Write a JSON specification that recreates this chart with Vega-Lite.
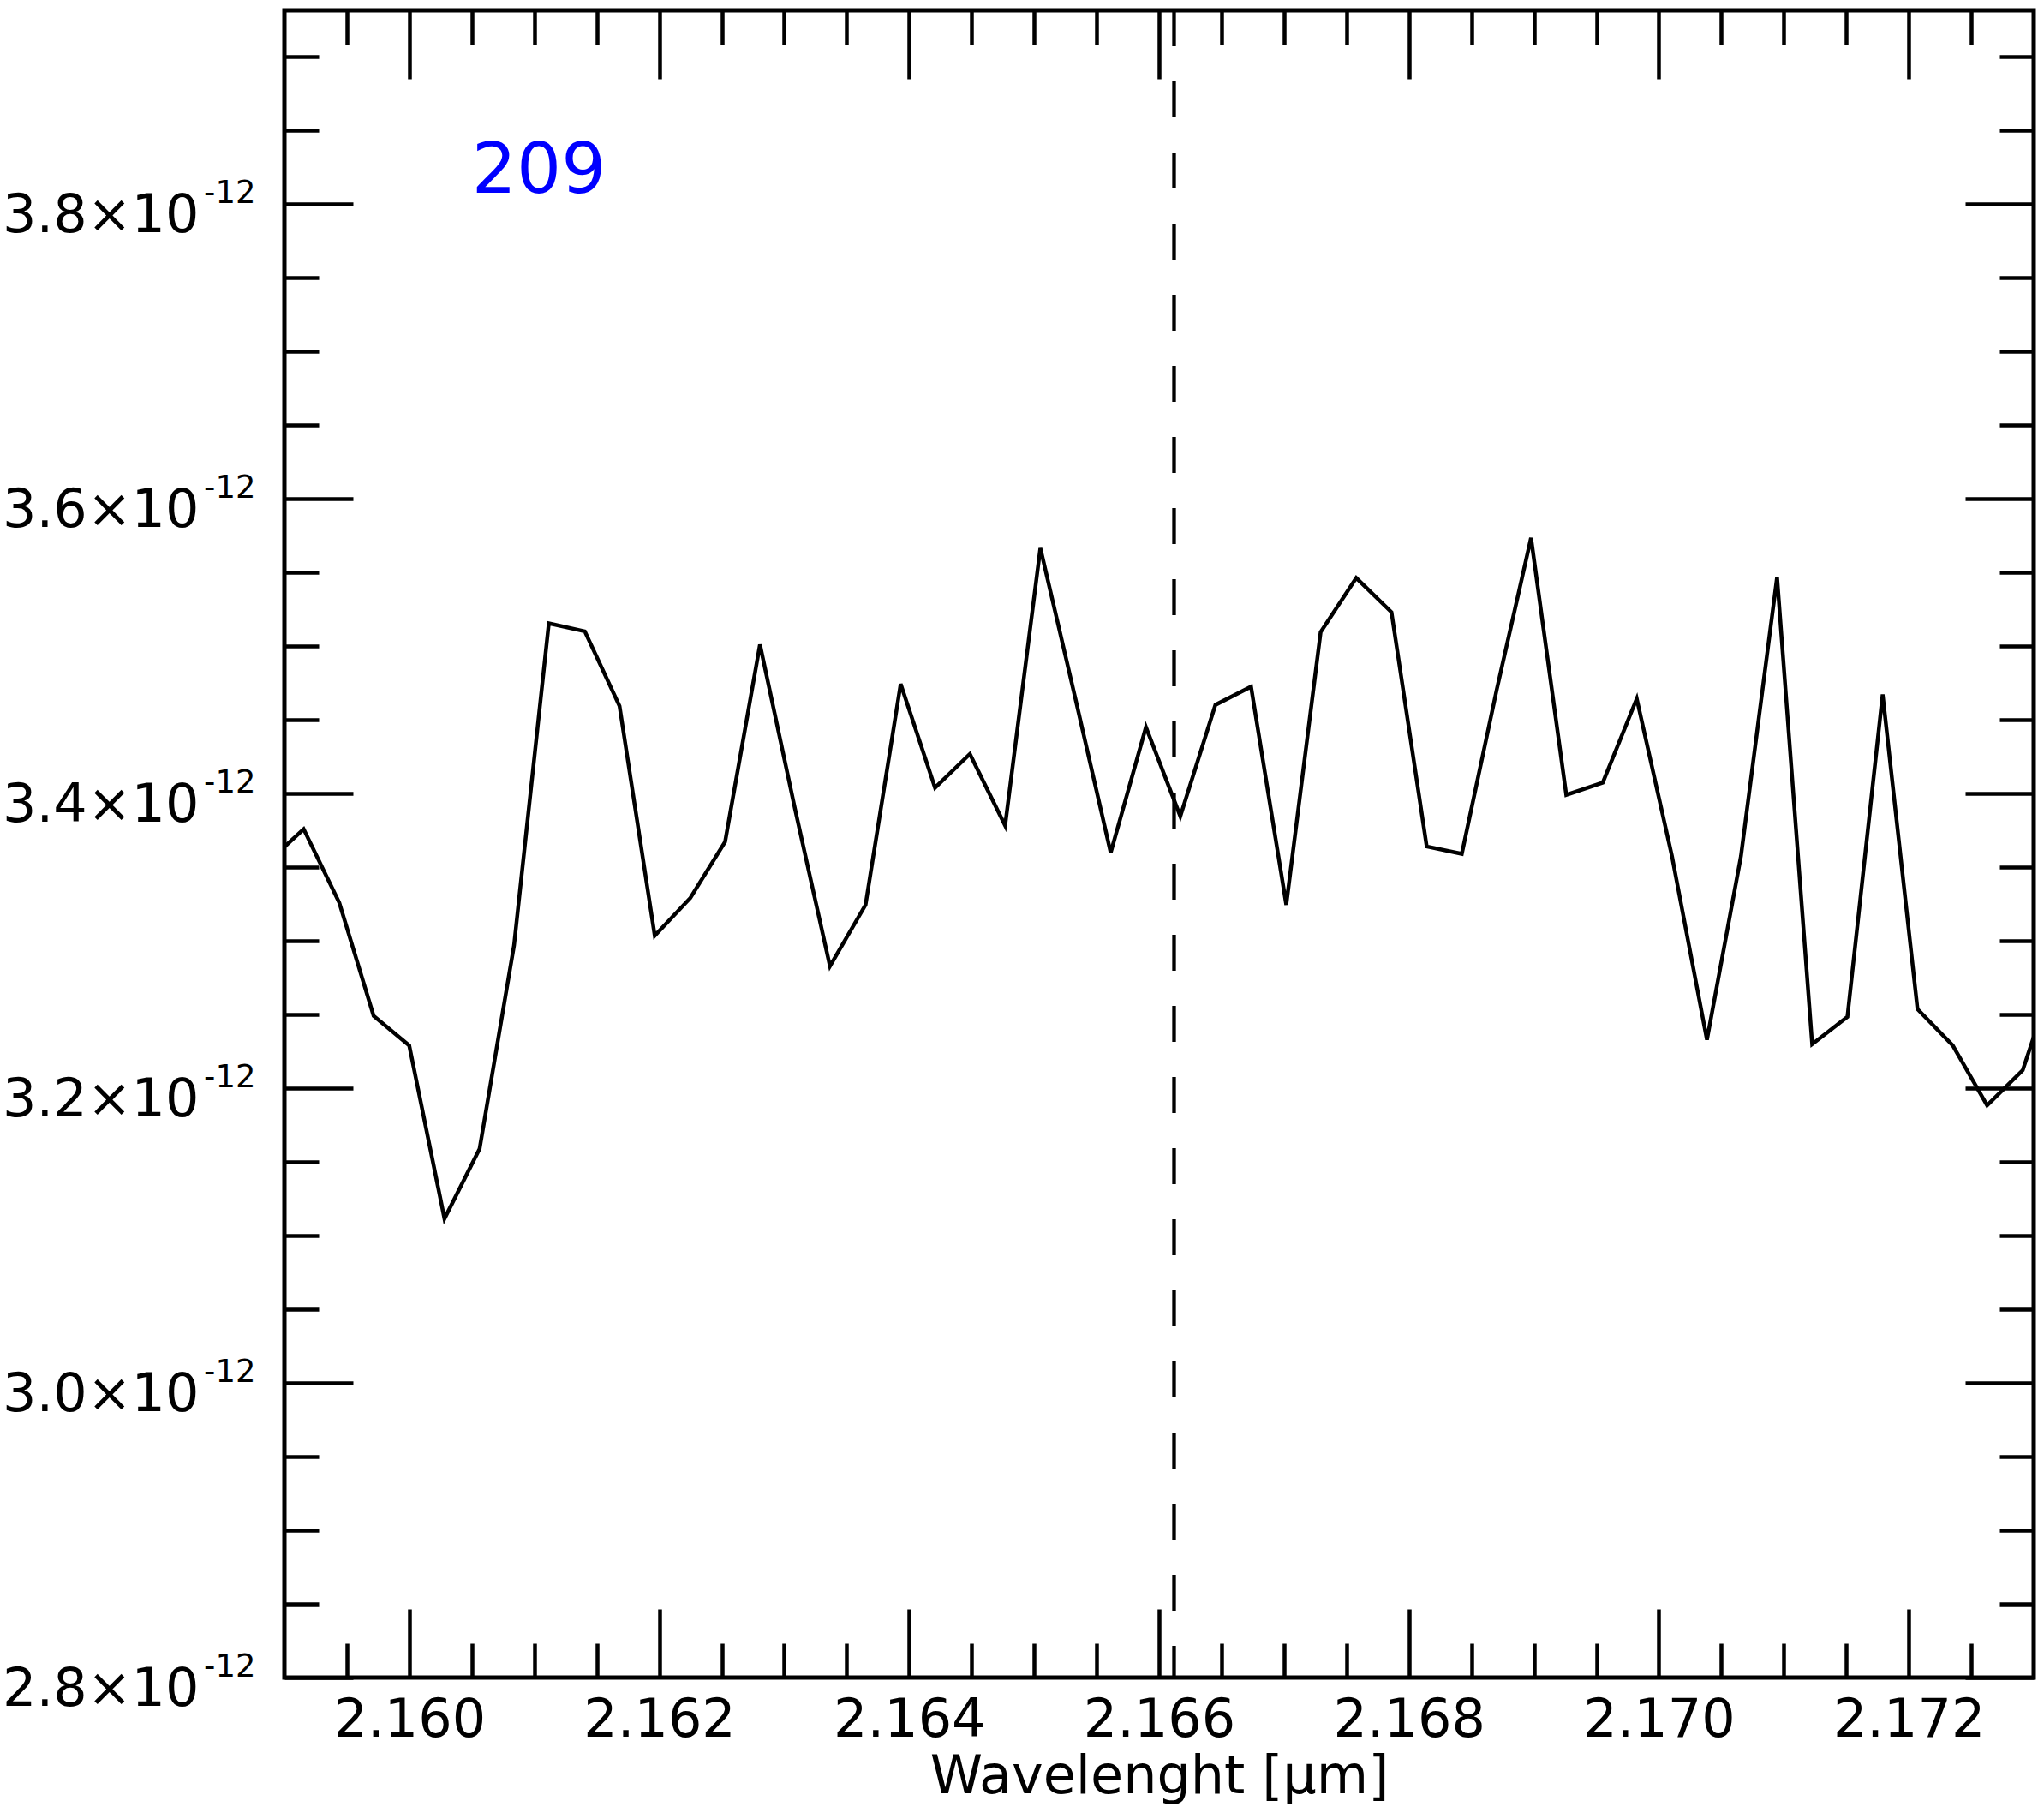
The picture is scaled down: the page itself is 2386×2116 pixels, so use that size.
{
  "$schema": "https://vega.github.io/schema/vega-lite/v6.json",
  "width": 2042,
  "height": 1946,
  "autosize": {"type": "none"},
  "padding": {"left": 332, "top": 12, "right": 12, "bottom": 158},
  "background": "white",
  "config": {
    "view": {"stroke": "black", "strokeWidth": 5},
    "axis": {
      "domain": false,
      "grid": false,
      "labelFont": "DejaVu Sans",
      "titleFont": "DejaVu Sans",
      "labelFontSize": 62,
      "titleFontSize": 62,
      "labelColor": "black",
      "titleColor": "black",
      "tickColor": "black",
      "tickWidth": 4.5,
      "titleFontWeight": "normal",
      "labelOverlap": false,
      "labelFlush": false,
      "labelBound": false,
      "labelLimit": 0
    }
  },
  "resolve": {"axis": {"x": "independent", "y": "independent"}},
  "layer": [
    {
      "data": {"values": [
        {"wavelength": 2.158873, "flux": 3.3539e-12},
        {"wavelength": 2.159154, "flux": 3.3759e-12},
        {"wavelength": 2.159439, "flux": 3.3259e-12},
        {"wavelength": 2.159714, "flux": 3.2491e-12},
        {"wavelength": 2.159999, "flux": 3.2290e-12},
        {"wavelength": 2.160281, "flux": 3.1115e-12},
        {"wavelength": 2.160562, "flux": 3.1589e-12},
        {"wavelength": 2.160838, "flux": 3.2971e-12},
        {"wavelength": 2.161116, "flux": 3.5155e-12},
        {"wavelength": 2.161404, "flux": 3.5101e-12},
        {"wavelength": 2.161682, "flux": 3.4594e-12},
        {"wavelength": 2.161964, "flux": 3.3035e-12},
        {"wavelength": 2.162249, "flux": 3.3292e-12},
        {"wavelength": 2.162527, "flux": 3.3673e-12},
        {"wavelength": 2.162806, "flux": 3.5011e-12},
        {"wavelength": 2.163087, "flux": 3.3893e-12},
        {"wavelength": 2.163366, "flux": 3.2828e-12},
        {"wavelength": 2.163651, "flux": 3.3245e-12},
        {"wavelength": 2.163932, "flux": 3.4744e-12},
        {"wavelength": 2.164207, "flux": 3.4039e-12},
        {"wavelength": 2.164486, "flux": 3.4269e-12},
        {"wavelength": 2.164768, "flux": 3.3783e-12},
        {"wavelength": 2.165050, "flux": 3.5666e-12},
        {"wavelength": 2.165331, "flux": 3.4642e-12},
        {"wavelength": 2.165613, "flux": 3.3599e-12},
        {"wavelength": 2.165895, "flux": 3.4451e-12},
        {"wavelength": 2.166170, "flux": 3.3846e-12},
        {"wavelength": 2.166451, "flux": 3.4602e-12},
        {"wavelength": 2.166736, "flux": 3.4725e-12},
        {"wavelength": 2.167018, "flux": 3.3245e-12},
        {"wavelength": 2.167293, "flux": 3.5096e-12},
        {"wavelength": 2.167578, "flux": 3.5463e-12},
        {"wavelength": 2.167860, "flux": 3.5231e-12},
        {"wavelength": 2.168142, "flux": 3.3641e-12},
        {"wavelength": 2.168423, "flux": 3.3591e-12},
        {"wavelength": 2.168702, "flux": 3.4704e-12},
        {"wavelength": 2.168977, "flux": 3.5735e-12},
        {"wavelength": 2.169259, "flux": 3.3991e-12},
        {"wavelength": 2.169551, "flux": 3.4074e-12},
        {"wavelength": 2.169823, "flux": 3.4644e-12},
        {"wavelength": 2.170105, "flux": 3.3575e-12},
        {"wavelength": 2.170385, "flux": 3.2329e-12},
        {"wavelength": 2.170657, "flux": 3.3575e-12},
        {"wavelength": 2.170946, "flux": 3.5468e-12},
        {"wavelength": 2.171227, "flux": 3.2299e-12},
        {"wavelength": 2.171509, "flux": 3.2484e-12},
        {"wavelength": 2.171791, "flux": 3.4673e-12},
        {"wavelength": 2.172070, "flux": 3.2537e-12},
        {"wavelength": 2.172352, "flux": 3.2291e-12},
        {"wavelength": 2.172627, "flux": 3.1884e-12},
        {"wavelength": 2.172912, "flux": 3.2122e-12},
        {"wavelength": 2.173193, "flux": 3.2840e-12}
      ]},
      "mark": {"type": "line", "color": "black", "strokeWidth": 4.5, "clip": true},
      "encoding": {
        "x": {
          "field": "wavelength",
          "type": "quantitative",
          "scale": {"domain": [2.159, 2.173], "nice": false, "zero": false},
          "axis": {
            "orient": "bottom",
            "title": "Wavelenght [μm]",
            "values": [2.1595, 2.16, 2.1605, 2.161, 2.1615, 2.162, 2.1625, 2.163, 2.1635, 2.164, 2.1645, 2.165, 2.1655, 2.166, 2.1665, 2.167, 2.1675, 2.168, 2.1685, 2.169, 2.1695, 2.17, 2.1705, 2.171, 2.1715, 2.172, 2.1725],
            "tickSize": {"condition": {"test": "round(datum.value*2000) % 4 == 0", "value": -80}, "value": -40},
            "labelExpr": "round(datum.value*2000) % 4 == 0 ? format(datum.value, '.3f') : ''",
            "labelPadding": 99,
            "titleBaseline": "alphabetic",
            "titleY": 134
          }
        },
        "y": {
          "field": "flux",
          "type": "quantitative",
          "scale": {"domain": [2.8e-12, 3.9316e-12], "nice": false, "zero": false},
          "axis": {
            "orient": "left",
            "title": null,
            "values": [2.8e-12, 2.85e-12, 2.9e-12, 2.95e-12, 3.0e-12, 3.05e-12, 3.1e-12, 3.15e-12, 3.2e-12, 3.25e-12, 3.3e-12, 3.35e-12, 3.4e-12, 3.45e-12, 3.5e-12, 3.55e-12, 3.6e-12, 3.65e-12, 3.7e-12, 3.75e-12, 3.8e-12, 3.85e-12, 3.9e-12],
            "tickSize": {"condition": {"test": "round(datum.value*1e12*20) % 4 == 0", "value": -80}, "value": -40},
            "labelExpr": "round(datum.value*1e12*20) % 4 == 0 ? format(datum.value*1e12, '.1f') + '×10' : ''",
            "labelPadding": 180,
            "labelBaseline": "alphabetic",
            "labelOffset": 32
          }
        }
      }
    },
    {
      "data": {"values": [{"line": 2.16612}]},
      "mark": {"type": "rule", "color": "black", "strokeWidth": 4.3, "strokeDash": [42, 41]},
      "encoding": {
        "x": {
          "field": "line",
          "type": "quantitative",
          "axis": {
            "orient": "top",
            "title": null,
            "labels": false,
            "values": [2.1595, 2.16, 2.1605, 2.161, 2.1615, 2.162, 2.1625, 2.163, 2.1635, 2.164, 2.1645, 2.165, 2.1655, 2.166, 2.1665, 2.167, 2.1675, 2.168, 2.1685, 2.169, 2.1695, 2.17, 2.1705, 2.171, 2.1715, 2.172, 2.1725],
            "tickSize": {"condition": {"test": "round(datum.value*2000) % 4 == 0", "value": -80}, "value": -40}
          }
        }
      }
    },
    {
      "data": {"values": [{"label": "209", "wavelength": 2.1605, "flux": 3.8077e-12}]},
      "mark": {"type": "text", "color": "#0000ff", "font": "DejaVu Sans", "fontSize": 82, "align": "left", "baseline": "alphabetic"},
      "encoding": {
        "x": {"field": "wavelength", "type": "quantitative", "axis": null},
        "y": {
          "field": "flux",
          "type": "quantitative",
          "axis": {
            "orient": "right",
            "title": null,
            "labels": false,
            "values": [2.8e-12, 2.85e-12, 2.9e-12, 2.95e-12, 3.0e-12, 3.05e-12, 3.1e-12, 3.15e-12, 3.2e-12, 3.25e-12, 3.3e-12, 3.35e-12, 3.4e-12, 3.45e-12, 3.5e-12, 3.55e-12, 3.6e-12, 3.65e-12, 3.7e-12, 3.75e-12, 3.8e-12, 3.85e-12, 3.9e-12],
            "tickSize": {"condition": {"test": "round(datum.value*1e12*20) % 4 == 0", "value": -80}, "value": -40}
          }
        },
        "text": {"field": "label"}
      }
    },
    {
      "data": {"values": [{"flux": 3.4e-12}]},
      "mark": {"type": "point", "opacity": 0},
      "encoding": {
        "y": {
          "field": "flux",
          "type": "quantitative",
          "axis": {
            "orient": "left",
            "title": null,
            "ticks": false,
            "values": [2.8e-12, 3.0e-12, 3.2e-12, 3.4e-12, 3.6e-12, 3.8e-12],
            "labelExpr": "'-12'",
            "labelFontSize": 37,
            "labelPadding": 34,
            "labelBaseline": "alphabetic",
            "labelOffset": -2
          }
        }
      }
    }
  ]
}
